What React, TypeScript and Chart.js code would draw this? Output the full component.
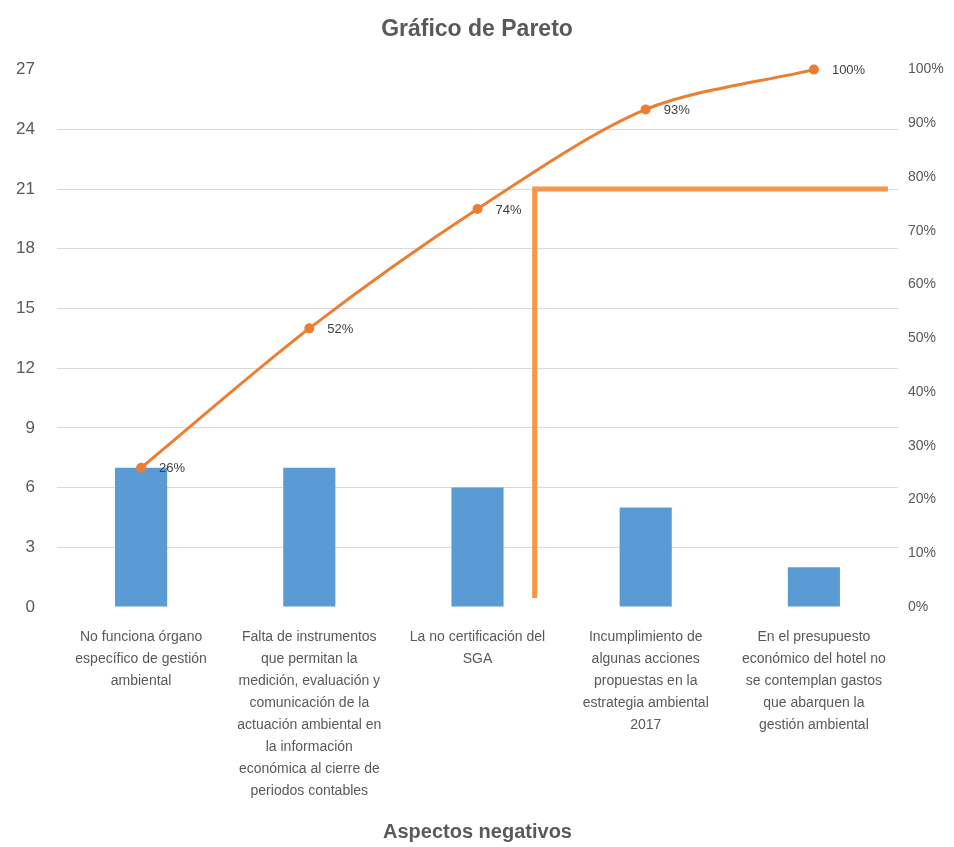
import React, { useEffect, useRef } from 'react';
import { Chart, registerables } from 'chart.js';

Chart.register(...registerables);

const categories: string[][] = [
  ['No funciona órgano', 'específico de gestión', 'ambiental'],
  ['Falta de instrumentos', 'que permitan la', 'medición, evaluación y', 'comunicación de la', 'actuación ambiental en', 'la información', 'económica al cierre de', 'periodos contables'],
  ['La no certificación del', 'SGA'],
  ['Incumplimiento de', 'algunas acciones', 'propuestas en la', 'estrategia ambiental', '2017'],
  ['En el presupuesto', 'económico del hotel no', 'se contemplan gastos', 'que abarquen la', 'gestión ambiental'],
];
const frequencies = [7, 7, 6, 5, 2];
const cumulative = [7, 14, 20, 25, 27];
const cumulativeLabels = ['26%', '52%', '74%', '93%', '100%'];

const leftMin = 0;
const leftMax = 27;
const leftStep = 3;
const rightMin = 0;
const rightMax = 100;
const rightStep = 10;

// orange bracket annotation, in data units (category index / left-axis value)
const bracketXIndex = 2.34;
const bracketRightIndex = 4.44;
const bracketTopValue = 21;
const bracketBottomValue = 0.45;

const FONT = "'Liberation Sans', Arial, sans-serif";
const GRAY = '#595959';

const pointLabelsPlugin = {
  id: 'pointLabels',
  afterDatasetsDraw(chart: any) {
    const meta = chart.getDatasetMeta(1);
    const ctx = chart.ctx;
    ctx.save();
    ctx.font = `13px ${FONT}`;
    ctx.fillStyle = '#404040';
    ctx.textAlign = 'left';
    ctx.textBaseline = 'middle';
    meta.data.forEach((pt: any, i: number) => {
      ctx.fillText(cumulativeLabels[i], pt.x + 18, pt.y + 1);
    });
    ctx.restore();
  },
};

const bracketPlugin = {
  id: 'bracket',
  afterDraw(chart: any) {
    const x = chart.scales.x;
    const y = chart.scales.y;
    const ctx = chart.ctx;
    const px = x.getPixelForValue(bracketXIndex);
    const pr = x.getPixelForValue(bracketRightIndex);
    const pt = y.getPixelForValue(bracketTopValue);
    const pb = y.getPixelForValue(bracketBottomValue);
    ctx.save();
    ctx.strokeStyle = '#F79646';
    ctx.lineWidth = 5;
    ctx.lineCap = 'butt';
    ctx.beginPath();
    ctx.moveTo(px, pb);
    ctx.lineTo(px, pt);
    ctx.lineTo(pr, pt);
    ctx.stroke();
    ctx.restore();
  },
};

export default function App() {
  const ref = useRef<HTMLCanvasElement | null>(null);

  useEffect(() => {
    document.body.style.margin = '0';
    if (!ref.current) return;
    const chart = new Chart(ref.current, {
      type: 'bar',
      data: {
        labels: categories,
        datasets: [
          {
            type: 'bar',
            label: 'Frecuencia',
            data: frequencies,
            backgroundColor: '#5B9BD5',
            barPercentage: 0.31,
            categoryPercentage: 1,
            yAxisID: 'y',
            order: 1,
          },
          {
            type: 'line',
            label: 'Acumulado',
            data: cumulative,
            borderColor: '#ED7D31',
            backgroundColor: '#ED7D31',
            borderWidth: 3,
            pointRadius: 3.5,
            pointBackgroundColor: '#ED7D31',
            pointBorderColor: '#ED7D31',
            tension: 0.3,
            yAxisID: 'y',
            clip: false,
            order: 0,
          } as any,
        ],
      },
      options: {
        animation: false,
        responsive: false,
        layout: { padding: 0 },
        plugins: {
          legend: { display: false },
          tooltip: { enabled: false },
          title: {
            display: true,
            text: 'Gráfico de Pareto',
            color: GRAY,
            font: { family: FONT, size: 23, weight: 'bold' },
            padding: { top: 16, bottom: 26 },
          },
        },
        scales: {
          x: {
            grid: { display: false, drawTicks: false },
            border: { display: false },
            ticks: {
              color: GRAY,
              font: { family: FONT, size: 14, lineHeight: 1.57 },
              padding: 19,
              maxRotation: 0,
              autoSkip: false,
            },
            title: {
              display: true,
              text: 'Aspectos negativos',
              color: GRAY,
              font: { family: FONT, size: 20, weight: 'bold' },
              padding: { top: 3, bottom: 3 },
            },
            afterFit(scale: any) {
              scale.height = 240;
            },
          },
          y: {
            position: 'left',
            min: leftMin,
            max: leftMax,
            ticks: {
              stepSize: leftStep,
              color: GRAY,
              font: { family: FONT, size: 17 },
              padding: 22,
            },
            grid: {
              drawTicks: false,
              color: (c: any) =>
                c.tick && (c.tick.value === leftMin || c.tick.value === leftMax)
                  ? 'rgba(0,0,0,0)'
                  : '#d9d9d9',
              lineWidth: 1,
            },
            border: { display: false },
            afterFit(scale: any) {
              scale.width = 57;
            },
          },
          y1: {
            position: 'right',
            min: rightMin,
            max: rightMax,
            ticks: {
              stepSize: rightStep,
              color: GRAY,
              font: { family: FONT, size: 14 },
              padding: 10,
              callback: (v: any) => `${v}%`,
            },
            grid: { display: false, drawTicks: false },
            border: { display: false },
            afterFit(scale: any) {
              scale.width = 56;
            },
          },
        },
      } as any,
      plugins: [pointLabelsPlugin, bracketPlugin],
    });
    return () => chart.destroy();
  }, []);

  return (
    <div style={{ width: 954, height: 847 }}>
      <canvas ref={ref} width={954} height={847} style={{ display: 'block' }} />
    </div>
  );
}
